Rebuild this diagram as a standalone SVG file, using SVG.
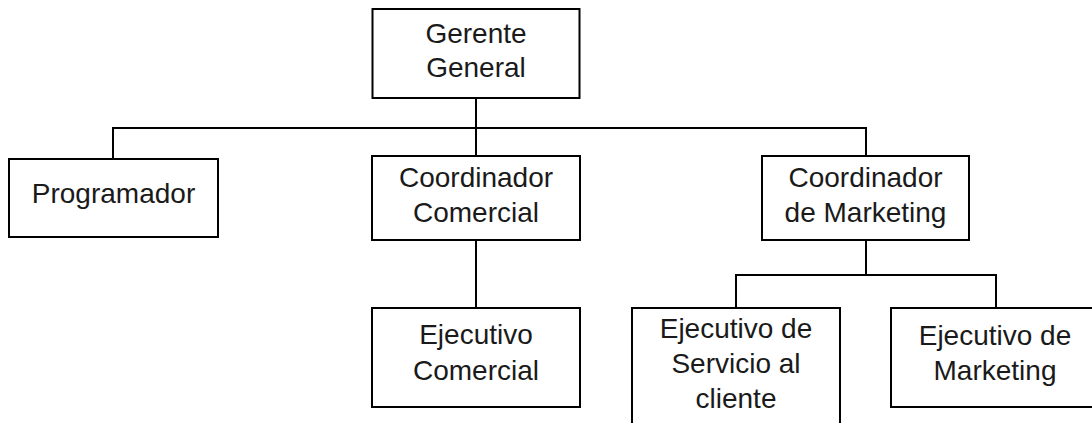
<svg xmlns="http://www.w3.org/2000/svg" width="1092" height="423" viewBox="0 0 1092 423">
<style>
.box{fill:#fff;stroke:#000;stroke-width:2}
.t{font-family:"Liberation Sans",Arial,sans-serif;font-size:28px;fill:#1a1a1a;text-anchor:middle}
.c{fill:none;stroke:#000;stroke-width:2}
</style>
<rect width="1092" height="423" fill="#fff"/>
<g id="connectors">
<path class="c" d="M476 98V156M113 159V128H866V156M476 240V308M866 240V275M736 308V275H996V308"/>
</g>
<g id="gerente">
<rect class="box" x="372.5" y="9" width="207" height="89"/>
<text class="t" x="476" y="42.7">Gerente</text>
<text class="t" x="476" y="76.7">General</text>
</g>
<g id="programador">
<rect class="box" x="9" y="159" width="209" height="78"/>
<text class="t" x="113.5" y="203.3">Programador</text>
</g>
<g id="coord-comercial">
<rect class="box" x="372" y="156" width="208" height="84"/>
<text class="t" x="476" y="186.7">Coordinador</text>
<text class="t" x="476" y="221.7">Comercial</text>
</g>
<g id="ejec-comercial">
<rect class="box" x="372" y="308" width="208" height="99"/>
<text class="t" x="476" y="344">Ejecutivo</text>
<text class="t" x="476" y="380">Comercial</text>
</g>
<g id="coord-marketing">
<rect class="box" x="762" y="156" width="207" height="84"/>
<text class="t" x="865.5" y="186.7">Coordinador</text>
<text class="t" x="865.5" y="221.7">de Marketing</text>
</g>
<g id="ejec-servicio">
<rect class="box" x="632" y="308" width="208" height="130"/>
<text class="t" x="736" y="338.3">Ejecutivo de</text>
<text class="t" x="736" y="373.3">Servicio al</text>
<text class="t" x="736" y="408.3">cliente</text>
</g>
<g id="ejec-marketing">
<rect class="box" x="891" y="308" width="210" height="99"/>
<text class="t" x="995" y="345">Ejecutivo de</text>
<text class="t" x="995" y="380">Marketing</text>
</g>
</svg>
